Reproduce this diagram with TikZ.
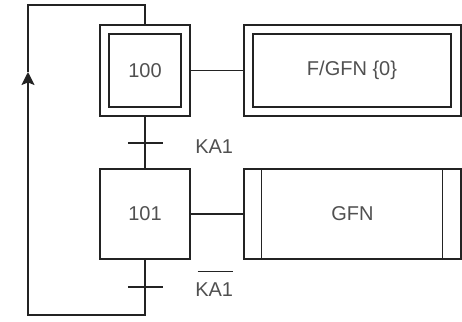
\documentclass[tikz,border=0pt]{standalone}
\usepackage{fontspec}
\setmainfont{Liberation Sans}
\usetikzlibrary{arrows.meta}
\definecolor{txt}{RGB}{80,80,80}
\definecolor{ln}{RGB}{35,35,35}
\begin{document}
\begin{tikzpicture}[x=0.75pt,y=-0.75pt,
  every node/.style={font=\fontsize{15pt}{18pt}\selectfont, text=txt},
  box/.style={draw=ln, line width=1.1pt, rectangle, inner sep=0pt},
  wire/.style={draw=ln, line width=1.1pt},
  bar/.style={draw=ln, line width=1.1pt}]
\useasboundingbox (0,0) rectangle (462,322);
% steps
\node[box, minimum width=67.5pt, minimum height=68.25pt] (s100) at (145,70.5) {};
\node[box, minimum width=54pt, minimum height=54.75pt] (s100i) at (145,70.5) {100};
\node[box, minimum width=67.5pt, minimum height=67.5pt] (s101) at (145,214) {101};
% actions
\node[box, minimum width=162.75pt, minimum height=68.25pt] (a1) at (352.5,70.5) {};
\node[box, minimum width=148.5pt, minimum height=54.75pt] (a1i) at (352,70.5) {F/GFN \{0\}};
\node[box, minimum width=162.75pt, minimum height=67.5pt] (a2) at (352.5,214) {GFN};
\draw[wire] ([xshift=13.5pt]a2.north west) -- ([xshift=13.5pt]a2.south west);
\draw[wire] ([xshift=-14.25pt]a2.north east) -- ([xshift=-14.25pt]a2.south east);
% links
\draw[wire] (s100.east) -- (a1.west);
\draw[wire] (s101.east) -- (a2.west);
% transitions
\coordinate (t1) at (145,143);
\coordinate (t2) at (145,287);
\draw[wire] (s100.south) -- (s101.north);
\draw[bar] ([xshift=-12.75pt]t1) -- ([xshift=13.5pt]t1);
\draw[bar] ([xshift=-12.75pt]t2) -- ([xshift=13.5pt]t2);
\node[anchor=west, inner sep=0pt] (k1) at (195,146.5) {KA1};
\node[anchor=west, inner sep=0pt] (k2) at (195,290) {KA1};
\draw[line width=1pt, draw=ln] ([xshift=2pt,yshift=8.5pt]k2.north west) -- ([yshift=8.5pt]k2.north east);
% loop
\coordinate (bl) at (28,315);
\coordinate (br) at (145,315);
\coordinate (tl) at (28,5);
\coordinate (tr) at (145,5);
\coordinate (ar) at (28,72);
\draw[wire, -{Stealth[length=9.75pt,width=9.75pt,inset=1.9pt]}] (s101.south) -- (br) -- (bl) -- (ar);
\draw[wire] (ar) -- (tl) -- (tr) -- (s100.north);
\end{tikzpicture}
\end{document}
